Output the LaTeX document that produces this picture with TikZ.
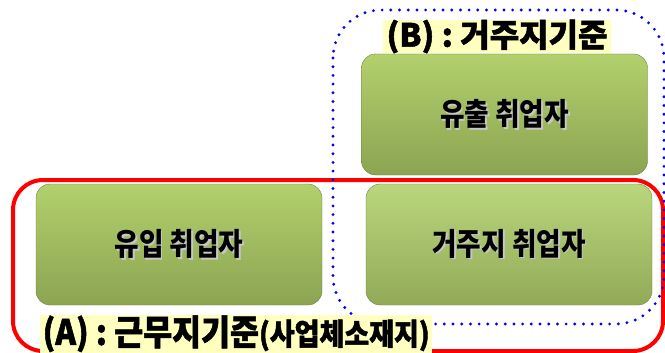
\documentclass[tikz,border=0pt]{standalone}
\usepackage{fontspec}
\newfontfamily\krbox{Noto Sans CJK KR}[FakeStretch=0.86]
\newfontfamily\krtagA{Noto Sans CJK KR}[FakeStretch=0.9, FakeBold=1.5]
\newfontfamily\krtagB{Noto Sans CJK KR}[FakeStretch=1.0, FakeBold=1.5]
\definecolor{labelyellow}{RGB}{255,255,192}
\definecolor{boxtop}{RGB}{178,208,108}
\definecolor{boxbot}{RGB}{140,164,82}
\definecolor{boxtopl}{RGB}{186,214,124}
\definecolor{boxbotl}{RGB}{146,170,88}
\definecolor{redframe}{RGB}{255,0,0}
\definecolor{blueframe}{RGB}{0,0,255}
\newcommand{\shadowed}[1]{\rlap{\kern1.8pt\raisebox{-1.8pt}{\textcolor{black!22}{#1}}}#1}
\tikzset{
  greenbox/.style={rounded corners=14pt, minimum width=286pt, minimum height=121pt,
    top color=boxtop, bottom color=boxbot, draw=boxbot!80!black, line width=0.4pt, inner sep=0pt},
  greenboxlight/.style={greenbox, top color=boxtopl, bottom color=boxbotl},
  boxtext/.style={font=\krbox\bfseries\fontsize{31}{31}\selectfont, text=black, inner sep=0pt},
  tag/.style={fill=labelyellow, inner sep=0pt, text=black},
}
\begin{document}
\begin{tikzpicture}[x=1pt,y=-1pt]
\useasboundingbox (0,0) rectangle (665,353);
% boxes
\node[greenbox] (outflow) at (504.5,114.5) {};
\node[greenbox] (inflow) at (179,244.5) {};
\node[greenboxlight] (resident) at (509,244.5) {};
% box texts with shadow
\node[boxtext] (t1) at (outflow.center) {\shadowed{유출 취업자}};
\node[boxtext] (t2) at (inflow.center) {\shadowed{유입 취업자}};
\node[boxtext] (t3) at (resident.center) {\shadowed{거주지 취업자}};
% frames
\draw[redframe, line width=4pt, rounded corners=30pt] (13,180) rectangle (663,351);
\draw[blueframe, line width=3.2pt, line cap=round, dash pattern=on 0pt off 8.7pt, rounded corners=48pt] (333,10) rectangle (664,324);
% labels
\node[tag, minimum width=228pt, minimum height=33pt, font=\krtagB\bfseries] (labB) at (497,36.5)
  {\fontsize{32}{32}\selectfont (B) : 거주지기준};
\node[tag, minimum width=392pt, minimum height=38pt, anchor=south west, font=\krtagA\bfseries] (labA) at (40,353)
  {\fontsize{35}{35}\selectfont (A) : 근무지기준\fontsize{30}{30}\selectfont(사업체소재지)};
\end{tikzpicture}
\end{document}
